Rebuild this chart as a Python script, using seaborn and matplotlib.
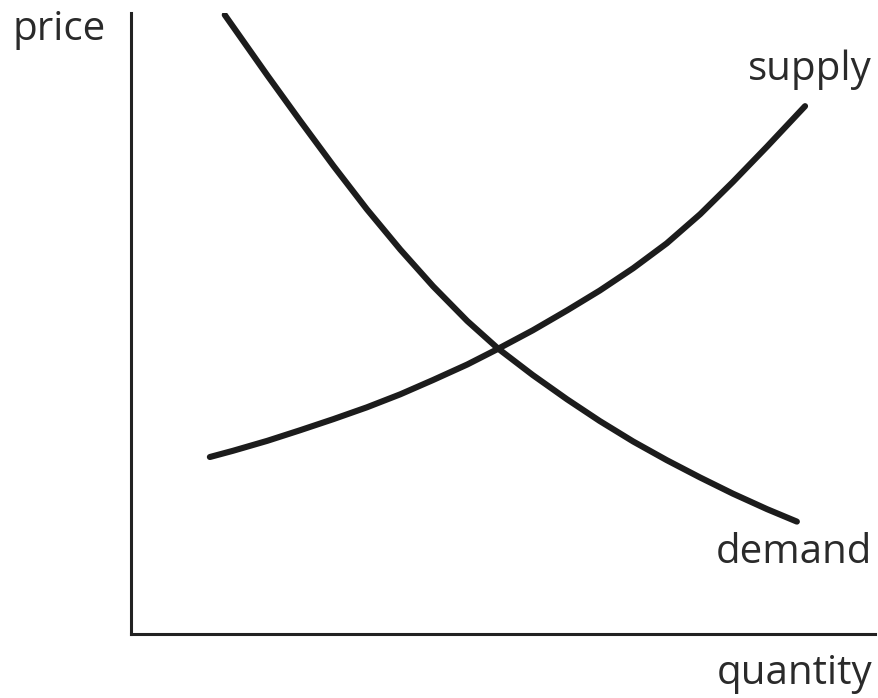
import numpy as np
import pandas as pd
import matplotlib.pyplot as plt
import seaborn as sns

# values, quantity / price on a 0-100 scale
demand_q = [12.6, 18.3, 22.7, 27.2, 31.7, 36.2, 40.6, 45.2, 49.3, 54.0, 58.6, 63.0, 67.5, 72.0, 76.5, 80.9, 85.5, 89.5]
demand_p = [99.7, 90.0, 82.7, 75.4, 68.4, 61.9, 56.0, 50.4, 46.0, 41.7, 37.8, 34.3, 31.0, 28.0, 25.2, 22.6, 20.1, 18.1]

supply_q = [10.6, 13.7, 18.3, 22.7, 27.2, 31.7, 36.2, 40.6, 45.2, 49.3, 54.0, 58.6, 63.0, 67.5, 72.0, 76.5, 80.9, 85.5, 90.6]
supply_p = [28.5, 29.5, 31.1, 32.8, 34.6, 36.5, 38.6, 40.9, 43.4, 45.9, 48.9, 52.1, 55.3, 58.9, 62.9, 67.6, 72.8, 78.5, 85.0]

sns.set_style("white")
plt.rcParams['font.family'] = ['Open Sans', 'DejaVu Sans']

df = pd.concat([
    pd.DataFrame({'quantity': demand_q, 'price': demand_p, 'curve': 'demand'}),
    pd.DataFrame({'quantity': supply_q, 'price': supply_p, 'curve': 'supply'}),
])

fig = plt.figure(figsize=(8.79, 6.98), dpi=100)
W, H = 879, 698
ax = fig.add_axes([131 / W, (H - 634) / H, (875 - 131) / W, (634 - 13) / H])

sns.lineplot(data=df, x='quantity', y='price', units='curve', estimator=None, sort=False,
             color='#1c1c1c', linewidth=4.4, ax=ax, legend=False,
             solid_capstyle='round', solid_joinstyle='round')

ax.set_xlim(0, 100)
ax.set_ylim(0, 100)
ax.set_xticks([])
ax.set_yticks([])
ax.set_xlabel('')
ax.set_ylabel('')
sns.despine(ax=ax)
for side in ['left', 'bottom']:
    ax.spines[side].set_color('#222222')
    ax.spines[side].set_linewidth(2.2)

txt = dict(fontsize=29, color='#2a2a2a', va='baseline', ha='right')
fig.text(106 / W, 1 - 40 / H, 'price', **txt)
fig.text(872 / W, 1 - 80 / H, 'supply', **txt)
fig.text(872 / W, 1 - 563 / H, 'demand', **txt)
fig.text(872 / W, 1 - 684 / H, 'quantity', **txt)

fig.savefig('out.png', dpi=100)
